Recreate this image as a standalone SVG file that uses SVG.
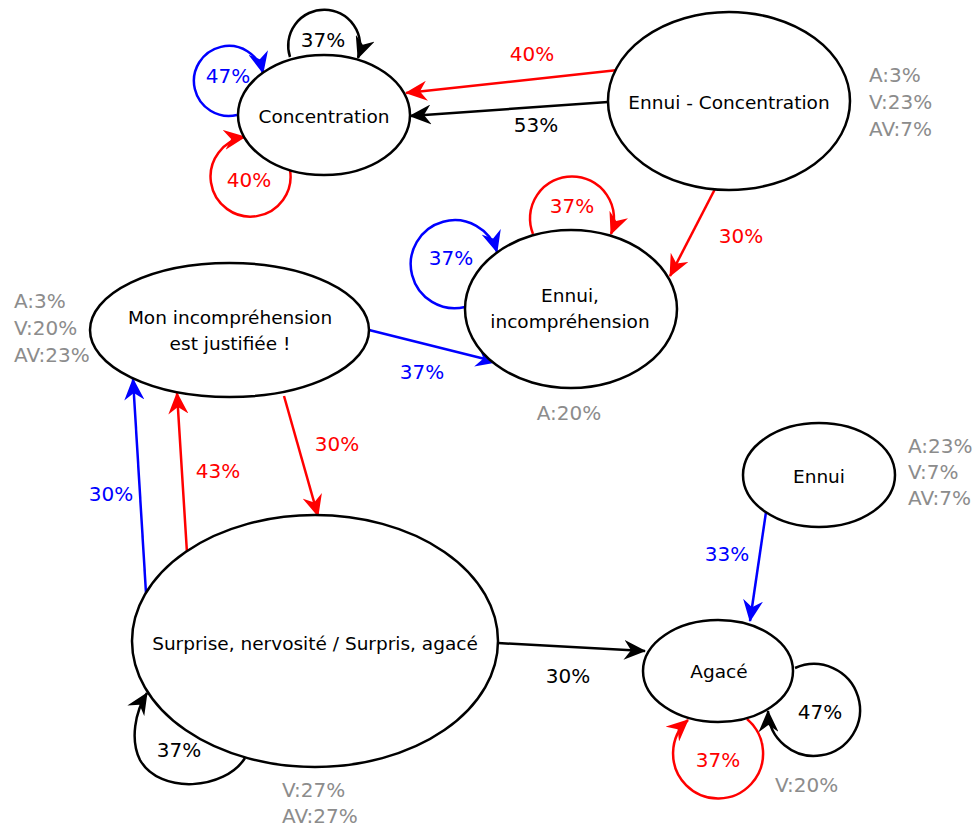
<svg xmlns="http://www.w3.org/2000/svg" width="979" height="827" viewBox="0 0 979 827">
<style>
.node{fill:#fff;stroke:#000;stroke-width:2.5}
text{font-family:"DejaVu Sans",Verdana,sans-serif;font-size:20px}
.t{fill:#000;text-anchor:middle;font-size:18.5px}
.g{fill:#8c8c8c}
.lk{fill:#000;text-anchor:middle}
.lr{fill:#ff0000;text-anchor:middle}
.lb{fill:#0000ff;text-anchor:middle}
.e{fill:none;stroke-width:2.5}
.k{stroke:#000}
.r{stroke:#ff0000}
.b{stroke:#0000ff}
</style>
<defs>
<marker id="ak" markerUnits="userSpaceOnUse" orient="auto" markerWidth="22" markerHeight="20" refX="21" refY="10" viewBox="0 0 22 20"><path d="M0,0 L22,10 L0,20 L7,10 Z" fill="#000"/></marker>
<marker id="ar" markerUnits="userSpaceOnUse" orient="auto" markerWidth="22" markerHeight="20" refX="21" refY="10" viewBox="0 0 22 20"><path d="M0,0 L22,10 L0,20 L7,10 Z" fill="#ff0000"/></marker>
<marker id="ab" markerUnits="userSpaceOnUse" orient="auto" markerWidth="22" markerHeight="20" refX="21" refY="10" viewBox="0 0 22 20"><path d="M0,0 L22,10 L0,20 L7,10 Z" fill="#0000ff"/></marker>
</defs>
<rect width="979" height="827" fill="#fff"/>

<g id="connectors">
<path class="e r" d="M618,70 L406,93" marker-end="url(#ar)"/>
<path class="e k" d="M608,102 L410,116" marker-end="url(#ak)"/>
<path class="e r" d="M731,158 L670,276" marker-end="url(#ar)"/>
<path class="e b" d="M369,330 L497,362" marker-end="url(#ab)"/>
<path class="e r" d="M284,396 L318,516" marker-end="url(#ar)"/>
<path class="e b" d="M146,593 L133,379" marker-end="url(#ab)"/>
<path class="e r" d="M187,553 L177,393" marker-end="url(#ar)"/>
<path class="e k" d="M498,643 L645,651" marker-end="url(#ak)"/>
<path class="e b" d="M766,512 L750,621" marker-end="url(#ab)"/>
<!-- self loops -->
<path class="e k" d="M290,57 A36,36 0 1 1 358,58" marker-end="url(#ak)"/>
<path class="e b" d="M237,115 A35,35 0 1 1 263,73" marker-end="url(#ab)"/>
<path class="e r" d="M290,170 A40,40 0 1 1 245,137" marker-end="url(#ar)"/>
<path class="e r" d="M533,234 A42,42 0 1 1 611,234" marker-end="url(#ar)"/>
<path class="e b" d="M465,307 A44,44 0 1 1 497,252" marker-end="url(#ab)"/>
<path class="e k" d="M245,758 C225,790 160,795 140,760 C130,740 135,712 147,693" marker-end="url(#ak)"/>
<path class="e k" d="M795,668 A46,46 0 1 1 768,711" marker-end="url(#ak)"/>
<path class="e r" d="M747,719 A45,45 0 1 1 688,720" marker-end="url(#ar)"/>
<!-- labels -->
<text class="lr" x="532" y="61">40%</text>
<text class="lk" x="536" y="132">53%</text>
<text class="lr" x="741" y="243">30%</text>
<text class="lb" x="422" y="379">37%</text>
<text class="lr" x="337" y="451">30%</text>
<text class="lr" x="218" y="478">43%</text>
<text class="lb" x="111" y="501">30%</text>
<text class="lk" x="568" y="683">30%</text>
<text class="lb" x="727" y="561">33%</text>
<text class="lk" x="323" y="47">37%</text>
<text class="lb" x="228" y="83">47%</text>
<text class="lr" x="249" y="187">40%</text>
<text class="lr" x="572" y="213">37%</text>
<text class="lb" x="451" y="265">37%</text>
<text class="lk" x="179" y="757">37%</text>
<text class="lk" x="820" y="719">47%</text>
<text class="lr" x="718" y="767">37%</text>
</g>

<g id="concentration">
<ellipse class="node" cx="324" cy="115" rx="86" ry="60"/>
<text class="t" x="324" y="123">Concentration</text>
</g>

<g id="ennui-concentration">
<ellipse class="node" cx="729" cy="101" rx="121" ry="89"/>
<text class="t" x="729" y="109">Ennui - Concentration</text>
<text class="g" x="869" y="82">A:3%</text>
<text class="g" x="869" y="109">V:23%</text>
<text class="g" x="869" y="136">AV:7%</text>
</g>

<g id="ennui-incomprehension">
<ellipse class="node" cx="571" cy="309" rx="106" ry="79"/>
<text class="t" x="570" y="302">Ennui,</text>
<text class="t" x="570" y="328">incompréhension</text>
<text class="g" x="569" y="420" text-anchor="middle">A:20%</text>
</g>

<g id="mon-incomprehension">
<ellipse class="node" cx="229.5" cy="330" rx="139.5" ry="67"/>
<text class="t" x="230" y="324">Mon incompréhension</text>
<text class="t" x="230" y="350">est justifiée !</text>
<text class="g" x="14" y="308">A:3%</text>
<text class="g" x="14" y="335">V:20%</text>
<text class="g" x="14" y="362">AV:23%</text>
</g>

<g id="surprise">
<ellipse class="node" cx="315" cy="641" rx="183" ry="126"/>
<text class="t" x="315" y="650">Surprise, nervosité / Surpris, agacé</text>
<text class="g" x="282" y="797">V:27%</text>
<text class="g" x="282" y="823">AV:27%</text>
</g>

<g id="ennui">
<ellipse class="node" cx="819" cy="475" rx="76" ry="52"/>
<text class="t" x="819" y="483">Ennui</text>
<text class="g" x="908" y="453">A:23%</text>
<text class="g" x="908" y="479">V:7%</text>
<text class="g" x="908" y="505">AV:7%</text>
</g>

<g id="agace">
<ellipse class="node" cx="718" cy="671" rx="75" ry="51"/>
<text class="t" x="719" y="678">Agacé</text>
<text class="g" x="775" y="792">V:20%</text>
</g>
</svg>
